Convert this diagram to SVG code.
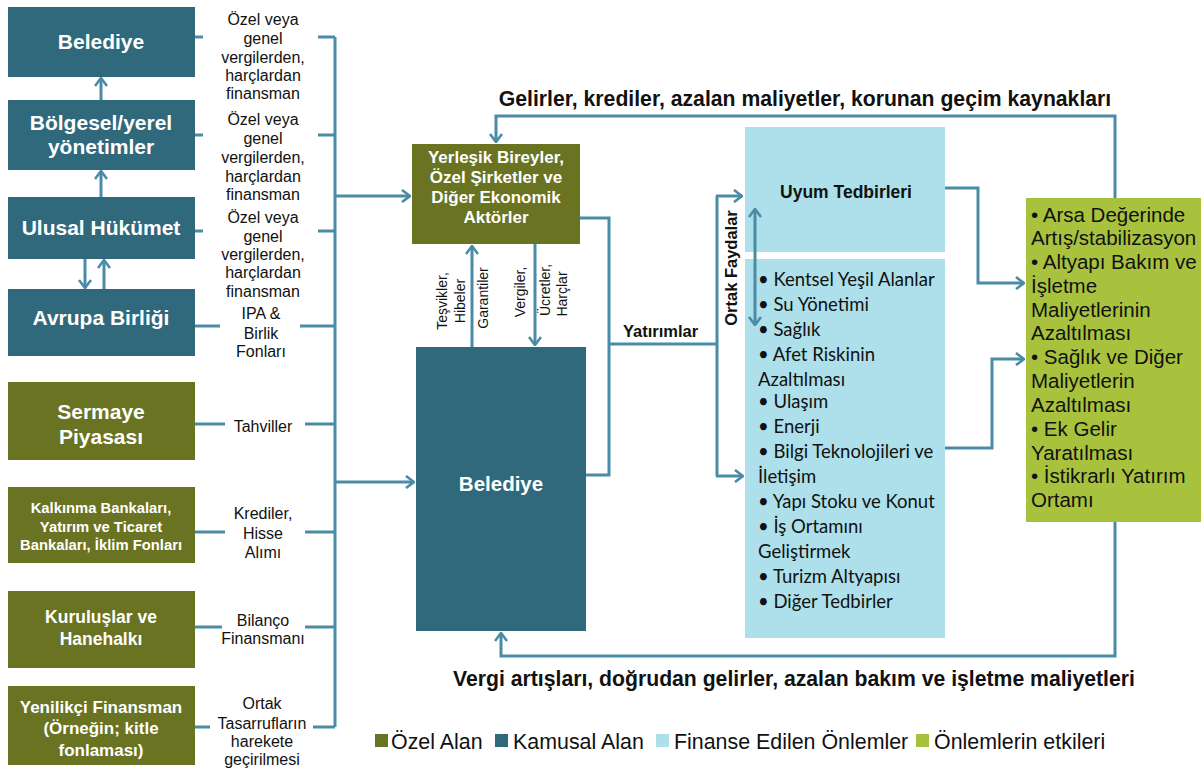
<svg xmlns="http://www.w3.org/2000/svg" width="1201" height="769" viewBox="0 0 1201 769">
  <defs>
    <marker id="arr" viewBox="0 0 10 14" refX="9" refY="7" markerWidth="10" markerHeight="14" markerUnits="userSpaceOnUse" orient="auto">
      <path d="M1,1 L9,7 L1,13" fill="none" stroke="#4a8ba6" stroke-width="2.6"/>
    </marker>
    <marker id="arrs" viewBox="0 0 10 14" refX="9" refY="7" markerWidth="10" markerHeight="14" markerUnits="userSpaceOnUse" orient="auto-start-reverse">
      <path d="M1,1 L9,7 L1,13" fill="none" stroke="#4a8ba6" stroke-width="2.6"/>
    </marker>
    <style>
      .pub { fill: #31697c; }
      .priv { fill: #6a7321; }
      .meas { fill: #ade0ea; }
      .eff { fill: #a9c23e; }
      .bt { font-family: "Liberation Sans", Arial, sans-serif; font-weight: bold; fill: #ffffff; text-anchor: middle; }
      .lbl { font-family: "Liberation Sans", Arial, sans-serif; font-size: 16px; fill: #111111; text-anchor: middle; }
      .rot { font-family: "Liberation Sans", Arial, sans-serif; font-size: 14px; fill: #111111; text-anchor: middle; }
      .hd { font-family: "Liberation Sans", Arial, sans-serif; font-weight: bold; fill: #111111; }
      .lst { font-family: Lato, "Noto Sans", sans-serif; font-size: 18.5px; fill: #111111; }
      .eft { font-family: "Liberation Sans", Arial, sans-serif; font-size: 20.5px; fill: #111111; }
      .leg { font-family: "Liberation Sans", Arial, sans-serif; font-size: 21.4px; fill: #111111; }
      .ln { fill: none; stroke: #4a8ba6; stroke-width: 3; }
    </style>
  </defs>

  <!-- public sources -->
  <g id="n-belediye-src">
    <rect class="pub" x="8" y="7" width="187" height="70"/>
    <text class="bt" x="101" y="49" font-size="21">Belediye</text>
  </g>
  <g id="n-bolgesel">
    <rect class="pub" x="8" y="100" width="187" height="70"/>
    <text class="bt" x="101" y="130" font-size="21">Bölgesel/yerel</text>
    <text class="bt" x="101" y="154" font-size="21">yönetimler</text>
  </g>
  <g id="n-ulusal">
    <rect class="pub" x="8" y="197" width="187" height="62"/>
    <text class="bt" x="101" y="235" font-size="21">Ulusal Hükümet</text>
  </g>
  <g id="n-ab">
    <rect class="pub" x="8" y="289" width="187" height="67"/>
    <text class="bt" x="101" y="325" font-size="21">Avrupa Birliği</text>
  </g>

  <!-- private sources -->
  <g id="n-sermaye">
    <rect class="priv" x="8" y="382" width="187" height="78"/>
    <text class="bt" x="101" y="419" font-size="21">Sermaye</text>
    <text class="bt" x="101" y="444" font-size="21">Piyasası</text>
  </g>
  <g id="n-kalkinma">
    <rect class="priv" x="8" y="487" width="187" height="76"/>
    <text class="bt" x="101" y="513" font-size="14.8">Kalkınma Bankaları,</text>
    <text class="bt" x="101" y="532" font-size="14.8">Yatırım ve Ticaret</text>
    <text class="bt" x="101" y="550" font-size="14.8">Bankaları, İklim Fonları</text>
  </g>
  <g id="n-kuruluslar">
    <rect class="priv" x="8" y="591" width="187" height="77"/>
    <text class="bt" x="101" y="623" font-size="17.5">Kuruluşlar ve</text>
    <text class="bt" x="101" y="645" font-size="17.5">Hanehalkı</text>
  </g>
  <g id="n-yenilikci">
    <rect class="priv" x="8" y="686" width="187" height="79"/>
    <text class="bt" x="101" y="713" font-size="17">Yenilikçi Finansman</text>
    <text class="bt" x="101" y="734" font-size="17">(Örneğin; kitle</text>
    <text class="bt" x="101" y="756" font-size="17">fonlaması)</text>
  </g>

  <!-- funding channel labels -->
  <g id="channel-labels">
    <text class="lbl" x="263" y="25">Özel veya</text>
    <text class="lbl" x="263" y="44">genel</text>
    <text class="lbl" x="263" y="63">vergilerden,</text>
    <text class="lbl" x="263" y="81">harçlardan</text>
    <text class="lbl" x="263" y="99">finansman</text>

    <text class="lbl" x="263" y="125">Özel veya</text>
    <text class="lbl" x="263" y="144">genel</text>
    <text class="lbl" x="263" y="163">vergilerden,</text>
    <text class="lbl" x="263" y="182">harçlardan</text>
    <text class="lbl" x="263" y="200">finansman</text>

    <text class="lbl" x="263" y="223">Özel veya</text>
    <text class="lbl" x="263" y="242">genel</text>
    <text class="lbl" x="263" y="260">vergilerden,</text>
    <text class="lbl" x="263" y="278">harçlardan</text>
    <text class="lbl" x="263" y="297">finansman</text>

    <text class="lbl" x="261" y="319">IPA &amp;</text>
    <text class="lbl" x="261" y="339">Birlik</text>
    <text class="lbl" x="261" y="357">Fonları</text>

    <text class="lbl" x="263" y="432">Tahviller</text>

    <text class="lbl" x="263" y="519">Krediler,</text>
    <text class="lbl" x="263" y="539">Hisse</text>
    <text class="lbl" x="263" y="558">Alımı</text>

    <text class="lbl" x="263" y="626">Bilanço</text>
    <text class="lbl" x="263" y="644">Finansmanı</text>

    <text class="lbl" x="262" y="709">Ortak</text>
    <text class="lbl" x="262" y="729">Tasarrufların</text>
    <text class="lbl" x="262" y="747">harekete</text>
    <text class="lbl" x="262" y="765">geçirilmesi</text>
  </g>

  <!-- residents and private actors -->
  <g id="n-yerlesik">
    <rect class="priv" x="412" y="144" width="168" height="100"/>
    <text class="bt" x="496" y="163" font-size="17">Yerleşik Bireyler,</text>
    <text class="bt" x="496" y="183" font-size="17">Özel Şirketler ve</text>
    <text class="bt" x="496" y="203" font-size="17">Diğer Ekonomik</text>
    <text class="bt" x="496" y="223" font-size="17">Aktörler</text>
  </g>

  <!-- municipality -->
  <g id="n-belediye">
    <rect class="pub" x="416" y="347" width="170" height="284"/>
    <text class="bt" x="501" y="491" font-size="20.5">Belediye</text>
  </g>

  <!-- flows between residents and municipality -->
  <g id="flow-labels">
    <text class="rot" transform="translate(447,301) rotate(-90)">Teşvikler,</text>
    <text class="rot" transform="translate(465,301) rotate(-90)">Hibeler</text>
    <text class="rot" transform="translate(488,298) rotate(-90)">Garantiler</text>
    <text class="rot" transform="translate(525,292) rotate(-90)">Vergiler,</text>
    <text class="rot" transform="translate(550,290) rotate(-90)">Ücretler,</text>
    <text class="rot" transform="translate(567,294) rotate(-90)">Harçlar</text>
    <text class="hd" x="623" y="337" font-size="16.5">Yatırımlar</text>
    <text class="hd" font-size="16.5" text-anchor="middle" transform="translate(737,268) rotate(-90)">Ortak Faydalar</text>
  </g>

  <!-- financed measures -->
  <g id="n-uyum">
    <rect class="meas" x="745" y="127" width="200" height="125"/>
    <text class="hd" x="846" y="198" font-size="17.5" text-anchor="middle">Uyum Tedbirleri</text>
  </g>
  <g id="n-tedbirler">
    <rect class="meas" x="745" y="259" width="200" height="379"/>
    <text class="lst" x="758" y="286">• Kentsel Yeşil Alanlar</text>
    <text class="lst" x="758" y="311">• Su Yönetimi</text>
    <text class="lst" x="758" y="336">• Sağlık</text>
    <text class="lst" x="758" y="361">• Afet Riskinin</text>
    <text class="lst" x="758" y="386">Azaltılması</text>
    <text class="lst" x="758" y="408">• Ulaşım</text>
    <text class="lst" x="758" y="433">• Enerji</text>
    <text class="lst" x="758" y="458">• Bilgi Teknolojileri ve</text>
    <text class="lst" x="758" y="483">İletişim</text>
    <text class="lst" x="758" y="508">• Yapı Stoku ve Konut</text>
    <text class="lst" x="758" y="533">• İş Ortamını</text>
    <text class="lst" x="758" y="558">Geliştirmek</text>
    <text class="lst" x="758" y="583">• Turizm Altyapısı</text>
    <text class="lst" x="758" y="608">• Diğer Tedbirler</text>
  </g>

  <!-- effects of the measures -->
  <g id="n-etkiler">
    <rect class="eff" x="1026" y="198" width="175" height="324"/>
    <text class="eft" x="1031" y="222">• Arsa Değerinde</text>
    <text class="eft" x="1031" y="245">Artış/stabilizasyon</text>
    <text class="eft" x="1031" y="269">• Altyapı Bakım ve</text>
    <text class="eft" x="1031" y="293">İşletme</text>
    <text class="eft" x="1031" y="317">Maliyetlerinin</text>
    <text class="eft" x="1031" y="340">Azaltılması</text>
    <text class="eft" x="1031" y="364">• Sağlık ve Diğer</text>
    <text class="eft" x="1031" y="388">Maliyetlerin</text>
    <text class="eft" x="1031" y="412">Azaltılması</text>
    <text class="eft" x="1031" y="436">• Ek Gelir</text>
    <text class="eft" x="1031" y="460">Yaratılması</text>
    <text class="eft" x="1031" y="483">• İstikrarlı Yatırım</text>
    <text class="eft" x="1031" y="507">Ortamı</text>
  </g>

  <!-- feedback titles -->
  <g id="titles">
    <text class="hd" x="805" y="106" font-size="21.2" text-anchor="middle">Gelirler, krediler, azalan maliyetler, korunan geçim kaynakları</text>
    <text class="hd" x="794" y="686" font-size="21.2" text-anchor="middle">Vergi artışları, doğrudan gelirler, azalan bakım ve işletme maliyetleri</text>
  </g>

  <!-- legend -->
  <g id="legend">
    <rect class="priv" x="375" y="734" width="13" height="13"/>
    <text class="leg" x="391" y="749">Özel Alan</text>
    <rect class="pub" x="495" y="734" width="13" height="13"/>
    <text class="leg" x="513" y="749">Kamusal Alan</text>
    <rect class="meas" x="656" y="734" width="13" height="13"/>
    <text class="leg" x="674" y="749">Finanse Edilen Önlemler</text>
    <rect class="eff" x="916" y="734" width="13" height="13"/>
    <text class="leg" x="934" y="749">Önlemlerin etkileri</text>
  </g>

  <!-- connectors -->
  <g id="connectors" class="ln">
    <!-- public-sector chain -->
    <line x1="101" y1="100" x2="101" y2="78" marker-end="url(#arr)"/>
    <line x1="101" y1="197" x2="101" y2="171" marker-end="url(#arr)"/>
    <line x1="85" y1="259" x2="85" y2="288" marker-end="url(#arr)"/>
    <line x1="104" y1="289" x2="104" y2="260" marker-end="url(#arr)"/>

    <!-- source stubs into the funding bus -->
    <path d="M195,37 H203 M318,37 H335"/>
    <path d="M195,135 H203 M318,135 H335"/>
    <path d="M195,231 H203 M318,231 H335"/>
    <path d="M195,326 H220 M300,326 H335"/>
    <path d="M195,424 H225 M305,424 H335"/>
    <path d="M195,532 H225 M305,532 H335"/>
    <path d="M195,627 H222 M305,627 H335"/>
    <path d="M195,727 H210 M313,727 H335"/>
    <line x1="335" y1="37" x2="335" y2="727"/>
    <line x1="335" y1="196" x2="410" y2="196" marker-end="url(#arr)"/>
    <line x1="335" y1="482" x2="414" y2="482" marker-end="url(#arr)"/>

    <!-- feedback loops -->
    <polyline points="1115,198 1115,116 496,116 496,142" marker-end="url(#arr)"/>
    <polyline points="1115,522 1115,656 501,656 501,633" marker-end="url(#arr)"/>

    <!-- between residents and municipality -->
    <line x1="472" y1="347" x2="472" y2="246" marker-end="url(#arr)"/>
    <line x1="535" y1="244" x2="535" y2="345" marker-end="url(#arr)"/>

    <!-- investments -->
    <polyline points="580,218 609,218 609,475 586,475"/>
    <line x1="609" y1="344" x2="717" y2="344"/>
    <line x1="717" y1="196" x2="717" y2="476"/>
    <line x1="716" y1="196" x2="742" y2="196" marker-end="url(#arr)"/>
    <line x1="716" y1="476" x2="743" y2="476" marker-end="url(#arr)"/>
    <line x1="755" y1="209" x2="755" y2="325" marker-start="url(#arrs)" marker-end="url(#arrs)"/>

    <!-- measures to effects -->
    <polyline points="945,188 978,188 978,283 1024,283" marker-end="url(#arr)"/>
    <polyline points="945,448 992,448 992,359 1024,359" marker-end="url(#arr)"/>
  </g>
</svg>
